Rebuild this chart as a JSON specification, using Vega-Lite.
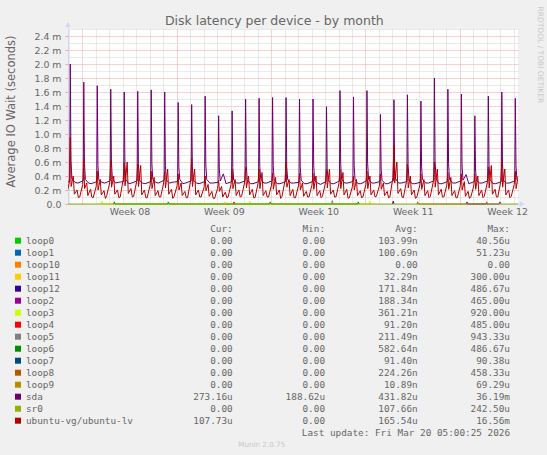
{
  "$schema": "https://vega.github.io/schema/vega-lite/v6.json",
  "background": "#F0F0F0",
  "padding": {"left": 5, "top": 5, "right": 4, "bottom": 7},
  "bounds": "flush",
  "spacing": 24.7,
  "config": {"view": {"stroke": null}},
  "resolve": {"scale": {"x": "independent", "y": "independent"}},
  "datasets": {
    "series": [
      {"dev": "loop3", "t": 1.40, "v": 0}, {"dev": "loop3", "t": 1.46, "v": 0.04}, {"dev": "loop3", "t": 1.52, "v": 0},
      {"dev": "loop3", "t": 12.36, "v": 0}, {"dev": "loop3", "t": 12.42, "v": 0.04}, {"dev": "loop3", "t": 12.48, "v": 0},
      {"dev": "loop3", "t": 21.27, "v": 0}, {"dev": "loop3", "t": 21.33, "v": 0.04}, {"dev": "loop3", "t": 21.39, "v": 0},
      {"dev": "loop6", "t": 2.31, "v": 0}, {"dev": "loop6", "t": 2.37, "v": 0.03}, {"dev": "loop6", "t": 2.43, "v": 0},
      {"dev": "loop6", "t": 6.32, "v": 0}, {"dev": "loop6", "t": 6.38, "v": 0.03}, {"dev": "loop6", "t": 6.44, "v": 0},
      {"dev": "loop6", "t": 13.88, "v": 0}, {"dev": "loop6", "t": 13.94, "v": 0.03}, {"dev": "loop6", "t": 14.00, "v": 0},
      {"dev": "loop6", "t": 20.41, "v": 0}, {"dev": "loop6", "t": 20.47, "v": 0.03}, {"dev": "loop6", "t": 20.53, "v": 0},
      {"dev": "loop11", "t": 10.52, "v": 0}, {"dev": "loop11", "t": 10.58, "v": 0.03}, {"dev": "loop11", "t": 10.64, "v": 0},
      {"dev": "loop4", "t": 11.19, "v": 0}, {"dev": "loop4", "t": 11.25, "v": 0.03}, {"dev": "loop4", "t": 11.31, "v": 0},
      {"dev": "loop5", "t": 18.48, "v": 0}, {"dev": "loop5", "t": 18.54, "v": 0.05}, {"dev": "loop5", "t": 18.60, "v": 0},
      {"dev": "loop12", "t": 23.00, "v": 0}, {"dev": "loop12", "t": 23.06, "v": 0.04}, {"dev": "loop12", "t": 23.12, "v": 0},
      {"dev": "loop8", "t": 24.81, "v": 0}, {"dev": "loop8", "t": 24.87, "v": 0.03}, {"dev": "loop8", "t": 24.93, "v": 0},
      {"dev": "loop8", "t": 29.93, "v": 0}, {"dev": "loop8", "t": 29.99, "v": 0.03}, {"dev": "loop8", "t": 30.05, "v": 0},
      {"dev": "loop2", "t": 28.47, "v": 0}, {"dev": "loop2", "t": 28.53, "v": 0.03}, {"dev": "loop2", "t": 28.59, "v": 0},
      {"dev": "loop2", "t": 30.91, "v": 0}, {"dev": "loop2", "t": 30.97, "v": 0.03}, {"dev": "loop2", "t": 31.03, "v": 0},
      {"dev": "sr0", "t": -1.06, "v": 0}, {"dev": "sr0", "t": 32.31, "v": 0},

      {"dev": "sda", "t": -1.34, "v": 0.31}, {"dev": "sda", "t": -0.93, "v": 0.32}, {"dev": "sda", "t": -0.89, "v": 2.00}, {"dev": "sda", "t": -0.84, "v": 0.62}, {"dev": "sda", "t": -0.77, "v": 0.36}, {"dev": "sda", "t": -0.54, "v": 0.31},
      {"dev": "sda", "t": -0.34, "v": 0.30}, {"dev": "sda", "t": 0.07, "v": 0.33}, {"dev": "sda", "t": 0.11, "v": 1.74}, {"dev": "sda", "t": 0.16, "v": 0.58}, {"dev": "sda", "t": 0.23, "v": 0.35}, {"dev": "sda", "t": 0.46, "v": 0.30},
      {"dev": "sda", "t": 0.66, "v": 0.29}, {"dev": "sda", "t": 1.07, "v": 0.32}, {"dev": "sda", "t": 1.11, "v": 1.69}, {"dev": "sda", "t": 1.16, "v": 0.55}, {"dev": "sda", "t": 1.23, "v": 0.34}, {"dev": "sda", "t": 1.46, "v": 0.31},
      {"dev": "sda", "t": 1.66, "v": 0.30}, {"dev": "sda", "t": 2.07, "v": 0.33}, {"dev": "sda", "t": 2.11, "v": 1.64}, {"dev": "sda", "t": 2.16, "v": 0.60}, {"dev": "sda", "t": 2.23, "v": 0.36}, {"dev": "sda", "t": 2.46, "v": 0.30},
      {"dev": "sda", "t": 2.66, "v": 0.31}, {"dev": "sda", "t": 3.07, "v": 0.32}, {"dev": "sda", "t": 3.11, "v": 1.60}, {"dev": "sda", "t": 3.16, "v": 0.56}, {"dev": "sda", "t": 3.23, "v": 0.35}, {"dev": "sda", "t": 3.46, "v": 0.29},
      {"dev": "sda", "t": 3.66, "v": 0.30}, {"dev": "sda", "t": 4.07, "v": 0.33}, {"dev": "sda", "t": 4.11, "v": 1.61}, {"dev": "sda", "t": 4.16, "v": 0.58}, {"dev": "sda", "t": 4.23, "v": 0.34}, {"dev": "sda", "t": 4.46, "v": 0.30},
      {"dev": "sda", "t": 4.66, "v": 0.29}, {"dev": "sda", "t": 5.07, "v": 0.32}, {"dev": "sda", "t": 5.11, "v": 1.63}, {"dev": "sda", "t": 5.16, "v": 0.57}, {"dev": "sda", "t": 5.23, "v": 0.35}, {"dev": "sda", "t": 5.46, "v": 0.31},
      {"dev": "sda", "t": 5.66, "v": 0.30}, {"dev": "sda", "t": 6.07, "v": 0.34}, {"dev": "sda", "t": 6.11, "v": 1.60}, {"dev": "sda", "t": 6.16, "v": 0.55}, {"dev": "sda", "t": 6.23, "v": 0.34}, {"dev": "sda", "t": 6.46, "v": 0.30},
      {"dev": "sda", "t": 6.66, "v": 0.31}, {"dev": "sda", "t": 7.07, "v": 0.32}, {"dev": "sda", "t": 7.11, "v": 1.45}, {"dev": "sda", "t": 7.16, "v": 0.52}, {"dev": "sda", "t": 7.23, "v": 0.35}, {"dev": "sda", "t": 7.46, "v": 0.29},
      {"dev": "sda", "t": 7.66, "v": 0.30}, {"dev": "sda", "t": 8.07, "v": 0.33}, {"dev": "sda", "t": 8.11, "v": 1.42}, {"dev": "sda", "t": 8.16, "v": 0.54}, {"dev": "sda", "t": 8.23, "v": 0.34}, {"dev": "sda", "t": 8.46, "v": 0.30},
      {"dev": "sda", "t": 8.66, "v": 0.29}, {"dev": "sda", "t": 9.07, "v": 0.32}, {"dev": "sda", "t": 9.11, "v": 1.54}, {"dev": "sda", "t": 9.16, "v": 0.56}, {"dev": "sda", "t": 9.23, "v": 0.35}, {"dev": "sda", "t": 9.46, "v": 0.30},
      {"dev": "sda", "t": 9.66, "v": 0.30}, {"dev": "sda", "t": 10.07, "v": 0.31}, {"dev": "sda", "t": 10.11, "v": 1.26}, {"dev": "sda", "t": 10.16, "v": 0.50}, {"dev": "sda", "t": 10.23, "v": 0.33}, {"dev": "sda", "t": 10.46, "v": 0.43},
      {"dev": "sda", "t": 10.66, "v": 0.29}, {"dev": "sda", "t": 11.07, "v": 0.32}, {"dev": "sda", "t": 11.11, "v": 1.33}, {"dev": "sda", "t": 11.16, "v": 0.52}, {"dev": "sda", "t": 11.23, "v": 0.34}, {"dev": "sda", "t": 11.46, "v": 0.30},
      {"dev": "sda", "t": 11.66, "v": 0.30}, {"dev": "sda", "t": 12.07, "v": 0.33}, {"dev": "sda", "t": 12.11, "v": 1.50}, {"dev": "sda", "t": 12.16, "v": 0.55}, {"dev": "sda", "t": 12.23, "v": 0.35}, {"dev": "sda", "t": 12.46, "v": 0.29},
      {"dev": "sda", "t": 12.66, "v": 0.29}, {"dev": "sda", "t": 13.07, "v": 0.32}, {"dev": "sda", "t": 13.11, "v": 1.51}, {"dev": "sda", "t": 13.16, "v": 0.54}, {"dev": "sda", "t": 13.23, "v": 0.36}, {"dev": "sda", "t": 13.46, "v": 0.30},
      {"dev": "sda", "t": 13.66, "v": 0.30}, {"dev": "sda", "t": 14.07, "v": 0.33}, {"dev": "sda", "t": 14.11, "v": 1.52}, {"dev": "sda", "t": 14.16, "v": 0.55}, {"dev": "sda", "t": 14.23, "v": 0.34}, {"dev": "sda", "t": 14.46, "v": 0.29},
      {"dev": "sda", "t": 14.66, "v": 0.29}, {"dev": "sda", "t": 15.07, "v": 0.32}, {"dev": "sda", "t": 15.11, "v": 1.52}, {"dev": "sda", "t": 15.16, "v": 0.53}, {"dev": "sda", "t": 15.23, "v": 0.35}, {"dev": "sda", "t": 15.46, "v": 0.30},
      {"dev": "sda", "t": 15.66, "v": 0.30}, {"dev": "sda", "t": 16.07, "v": 0.31}, {"dev": "sda", "t": 16.11, "v": 1.50}, {"dev": "sda", "t": 16.16, "v": 0.54}, {"dev": "sda", "t": 16.23, "v": 0.34}, {"dev": "sda", "t": 16.46, "v": 0.29},
      {"dev": "sda", "t": 16.66, "v": 0.29}, {"dev": "sda", "t": 17.07, "v": 0.32}, {"dev": "sda", "t": 17.11, "v": 1.50}, {"dev": "sda", "t": 17.16, "v": 0.55}, {"dev": "sda", "t": 17.23, "v": 0.33}, {"dev": "sda", "t": 17.46, "v": 0.30},
      {"dev": "sda", "t": 17.66, "v": 0.28}, {"dev": "sda", "t": 18.07, "v": 0.32}, {"dev": "sda", "t": 18.11, "v": 1.39}, {"dev": "sda", "t": 18.16, "v": 0.50}, {"dev": "sda", "t": 18.23, "v": 0.34}, {"dev": "sda", "t": 18.46, "v": 0.29},
      {"dev": "sda", "t": 18.66, "v": 0.29}, {"dev": "sda", "t": 19.07, "v": 0.33}, {"dev": "sda", "t": 19.11, "v": 1.62}, {"dev": "sda", "t": 19.16, "v": 0.57}, {"dev": "sda", "t": 19.23, "v": 0.35}, {"dev": "sda", "t": 19.46, "v": 0.30},
      {"dev": "sda", "t": 19.66, "v": 0.30}, {"dev": "sda", "t": 20.07, "v": 0.32}, {"dev": "sda", "t": 20.11, "v": 1.53}, {"dev": "sda", "t": 20.16, "v": 0.55}, {"dev": "sda", "t": 20.23, "v": 0.34}, {"dev": "sda", "t": 20.46, "v": 0.29},
      {"dev": "sda", "t": 20.66, "v": 0.29}, {"dev": "sda", "t": 21.07, "v": 0.33}, {"dev": "sda", "t": 21.11, "v": 1.62}, {"dev": "sda", "t": 21.16, "v": 0.58}, {"dev": "sda", "t": 21.23, "v": 0.35}, {"dev": "sda", "t": 21.46, "v": 0.30},
      {"dev": "sda", "t": 21.66, "v": 0.30}, {"dev": "sda", "t": 22.07, "v": 0.32}, {"dev": "sda", "t": 22.11, "v": 1.28}, {"dev": "sda", "t": 22.16, "v": 0.50}, {"dev": "sda", "t": 22.23, "v": 0.34}, {"dev": "sda", "t": 22.46, "v": 0.29},
      {"dev": "sda", "t": 22.66, "v": 0.29}, {"dev": "sda", "t": 23.07, "v": 0.33}, {"dev": "sda", "t": 23.11, "v": 1.49}, {"dev": "sda", "t": 23.16, "v": 0.55}, {"dev": "sda", "t": 23.23, "v": 0.36}, {"dev": "sda", "t": 23.46, "v": 0.30},
      {"dev": "sda", "t": 23.66, "v": 0.30}, {"dev": "sda", "t": 24.07, "v": 0.32}, {"dev": "sda", "t": 24.11, "v": 1.56}, {"dev": "sda", "t": 24.16, "v": 0.56}, {"dev": "sda", "t": 24.23, "v": 0.34}, {"dev": "sda", "t": 24.46, "v": 0.29},
      {"dev": "sda", "t": 24.66, "v": 0.29}, {"dev": "sda", "t": 25.07, "v": 0.31}, {"dev": "sda", "t": 25.11, "v": 1.47}, {"dev": "sda", "t": 25.16, "v": 0.53}, {"dev": "sda", "t": 25.23, "v": 0.35}, {"dev": "sda", "t": 25.46, "v": 0.30},
      {"dev": "sda", "t": 25.66, "v": 0.30}, {"dev": "sda", "t": 26.07, "v": 0.33}, {"dev": "sda", "t": 26.11, "v": 1.80}, {"dev": "sda", "t": 26.16, "v": 0.62}, {"dev": "sda", "t": 26.23, "v": 0.36}, {"dev": "sda", "t": 26.46, "v": 0.29},
      {"dev": "sda", "t": 26.66, "v": 0.29}, {"dev": "sda", "t": 27.07, "v": 0.32}, {"dev": "sda", "t": 27.11, "v": 1.64}, {"dev": "sda", "t": 27.16, "v": 0.58}, {"dev": "sda", "t": 27.23, "v": 0.35}, {"dev": "sda", "t": 27.46, "v": 0.30},
      {"dev": "sda", "t": 27.66, "v": 0.30}, {"dev": "sda", "t": 28.07, "v": 0.33}, {"dev": "sda", "t": 28.11, "v": 1.57}, {"dev": "sda", "t": 28.16, "v": 0.56}, {"dev": "sda", "t": 28.23, "v": 0.34}, {"dev": "sda", "t": 28.46, "v": 0.42},
      {"dev": "sda", "t": 28.66, "v": 0.29}, {"dev": "sda", "t": 29.07, "v": 0.32}, {"dev": "sda", "t": 29.11, "v": 1.26}, {"dev": "sda", "t": 29.16, "v": 0.50}, {"dev": "sda", "t": 29.23, "v": 0.33}, {"dev": "sda", "t": 29.46, "v": 0.30},
      {"dev": "sda", "t": 29.66, "v": 0.30}, {"dev": "sda", "t": 30.07, "v": 0.33}, {"dev": "sda", "t": 30.11, "v": 1.54}, {"dev": "sda", "t": 30.16, "v": 0.56}, {"dev": "sda", "t": 30.23, "v": 0.35}, {"dev": "sda", "t": 30.46, "v": 0.29},
      {"dev": "sda", "t": 30.66, "v": 0.29}, {"dev": "sda", "t": 31.07, "v": 0.32}, {"dev": "sda", "t": 31.11, "v": 1.60}, {"dev": "sda", "t": 31.16, "v": 0.57}, {"dev": "sda", "t": 31.23, "v": 0.34}, {"dev": "sda", "t": 31.46, "v": 0.30},
      {"dev": "sda", "t": 31.66, "v": 0.30}, {"dev": "sda", "t": 32.07, "v": 0.33}, {"dev": "sda", "t": 32.11, "v": 1.51}, {"dev": "sda", "t": 32.16, "v": 0.55}, {"dev": "sda", "t": 32.23, "v": 0.35}, {"dev": "sda", "t": 32.46, "v": 0.30},

      {"dev": "ubuntu-vg/ubuntu-lv", "t": -1.19, "v": 0.11}, {"dev": "ubuntu-vg/ubuntu-lv", "t": -0.97, "v": 0.30}, {"dev": "ubuntu-vg/ubuntu-lv", "t": -0.89, "v": 0.95}, {"dev": "ubuntu-vg/ubuntu-lv", "t": -0.83, "v": 0.25}, {"dev": "ubuntu-vg/ubuntu-lv", "t": -0.67, "v": 0.40}, {"dev": "ubuntu-vg/ubuntu-lv", "t": -0.59, "v": 0.14}, {"dev": "ubuntu-vg/ubuntu-lv", "t": -0.39, "v": 0.20}, {"dev": "ubuntu-vg/ubuntu-lv", "t": -0.29, "v": 0.09},
      {"dev": "ubuntu-vg/ubuntu-lv", "t": -0.19, "v": 0.10}, {"dev": "ubuntu-vg/ubuntu-lv", "t": 0.03, "v": 0.28}, {"dev": "ubuntu-vg/ubuntu-lv", "t": 0.11, "v": 0.62}, {"dev": "ubuntu-vg/ubuntu-lv", "t": 0.17, "v": 0.22}, {"dev": "ubuntu-vg/ubuntu-lv", "t": 0.33, "v": 0.30}, {"dev": "ubuntu-vg/ubuntu-lv", "t": 0.41, "v": 0.12}, {"dev": "ubuntu-vg/ubuntu-lv", "t": 0.61, "v": 0.21}, {"dev": "ubuntu-vg/ubuntu-lv", "t": 0.71, "v": 0.10},
      {"dev": "ubuntu-vg/ubuntu-lv", "t": 0.81, "v": 0.09}, {"dev": "ubuntu-vg/ubuntu-lv", "t": 1.03, "v": 0.25}, {"dev": "ubuntu-vg/ubuntu-lv", "t": 1.11, "v": 0.47}, {"dev": "ubuntu-vg/ubuntu-lv", "t": 1.17, "v": 0.20}, {"dev": "ubuntu-vg/ubuntu-lv", "t": 1.33, "v": 0.35}, {"dev": "ubuntu-vg/ubuntu-lv", "t": 1.41, "v": 0.13}, {"dev": "ubuntu-vg/ubuntu-lv", "t": 1.61, "v": 0.19}, {"dev": "ubuntu-vg/ubuntu-lv", "t": 1.71, "v": 0.08},
      {"dev": "ubuntu-vg/ubuntu-lv", "t": 1.81, "v": 0.12}, {"dev": "ubuntu-vg/ubuntu-lv", "t": 2.03, "v": 0.30}, {"dev": "ubuntu-vg/ubuntu-lv", "t": 2.11, "v": 0.62}, {"dev": "ubuntu-vg/ubuntu-lv", "t": 2.17, "v": 0.24}, {"dev": "ubuntu-vg/ubuntu-lv", "t": 2.33, "v": 0.40}, {"dev": "ubuntu-vg/ubuntu-lv", "t": 2.41, "v": 0.14}, {"dev": "ubuntu-vg/ubuntu-lv", "t": 2.61, "v": 0.20}, {"dev": "ubuntu-vg/ubuntu-lv", "t": 2.71, "v": 0.09},
      {"dev": "ubuntu-vg/ubuntu-lv", "t": 2.81, "v": 0.10}, {"dev": "ubuntu-vg/ubuntu-lv", "t": 3.03, "v": 0.35}, {"dev": "ubuntu-vg/ubuntu-lv", "t": 3.11, "v": 0.59}, {"dev": "ubuntu-vg/ubuntu-lv", "t": 3.17, "v": 0.26}, {"dev": "ubuntu-vg/ubuntu-lv", "t": 3.33, "v": 0.60}, {"dev": "ubuntu-vg/ubuntu-lv", "t": 3.41, "v": 0.15}, {"dev": "ubuntu-vg/ubuntu-lv", "t": 3.61, "v": 0.22}, {"dev": "ubuntu-vg/ubuntu-lv", "t": 3.71, "v": 0.10},
      {"dev": "ubuntu-vg/ubuntu-lv", "t": 3.81, "v": 0.11}, {"dev": "ubuntu-vg/ubuntu-lv", "t": 4.03, "v": 0.32}, {"dev": "ubuntu-vg/ubuntu-lv", "t": 4.11, "v": 0.57}, {"dev": "ubuntu-vg/ubuntu-lv", "t": 4.17, "v": 0.25}, {"dev": "ubuntu-vg/ubuntu-lv", "t": 4.33, "v": 0.55}, {"dev": "ubuntu-vg/ubuntu-lv", "t": 4.41, "v": 0.13}, {"dev": "ubuntu-vg/ubuntu-lv", "t": 4.61, "v": 0.20}, {"dev": "ubuntu-vg/ubuntu-lv", "t": 4.71, "v": 0.09},
      {"dev": "ubuntu-vg/ubuntu-lv", "t": 4.81, "v": 0.09}, {"dev": "ubuntu-vg/ubuntu-lv", "t": 5.03, "v": 0.27}, {"dev": "ubuntu-vg/ubuntu-lv", "t": 5.11, "v": 0.47}, {"dev": "ubuntu-vg/ubuntu-lv", "t": 5.17, "v": 0.22}, {"dev": "ubuntu-vg/ubuntu-lv", "t": 5.33, "v": 0.38}, {"dev": "ubuntu-vg/ubuntu-lv", "t": 5.41, "v": 0.12}, {"dev": "ubuntu-vg/ubuntu-lv", "t": 5.61, "v": 0.19}, {"dev": "ubuntu-vg/ubuntu-lv", "t": 5.71, "v": 0.10},
      {"dev": "ubuntu-vg/ubuntu-lv", "t": 5.81, "v": 0.10}, {"dev": "ubuntu-vg/ubuntu-lv", "t": 6.03, "v": 0.30}, {"dev": "ubuntu-vg/ubuntu-lv", "t": 6.11, "v": 0.46}, {"dev": "ubuntu-vg/ubuntu-lv", "t": 6.17, "v": 0.23}, {"dev": "ubuntu-vg/ubuntu-lv", "t": 6.33, "v": 0.50}, {"dev": "ubuntu-vg/ubuntu-lv", "t": 6.41, "v": 0.14}, {"dev": "ubuntu-vg/ubuntu-lv", "t": 6.61, "v": 0.21}, {"dev": "ubuntu-vg/ubuntu-lv", "t": 6.71, "v": 0.08},
      {"dev": "ubuntu-vg/ubuntu-lv", "t": 6.81, "v": 0.11}, {"dev": "ubuntu-vg/ubuntu-lv", "t": 7.03, "v": 0.26}, {"dev": "ubuntu-vg/ubuntu-lv", "t": 7.11, "v": 0.43}, {"dev": "ubuntu-vg/ubuntu-lv", "t": 7.17, "v": 0.20}, {"dev": "ubuntu-vg/ubuntu-lv", "t": 7.33, "v": 0.30}, {"dev": "ubuntu-vg/ubuntu-lv", "t": 7.41, "v": 0.12}, {"dev": "ubuntu-vg/ubuntu-lv", "t": 7.61, "v": 0.18}, {"dev": "ubuntu-vg/ubuntu-lv", "t": 7.71, "v": 0.09},
      {"dev": "ubuntu-vg/ubuntu-lv", "t": 7.81, "v": 0.09}, {"dev": "ubuntu-vg/ubuntu-lv", "t": 8.03, "v": 0.33}, {"dev": "ubuntu-vg/ubuntu-lv", "t": 8.11, "v": 0.65}, {"dev": "ubuntu-vg/ubuntu-lv", "t": 8.17, "v": 0.25}, {"dev": "ubuntu-vg/ubuntu-lv", "t": 8.33, "v": 0.50}, {"dev": "ubuntu-vg/ubuntu-lv", "t": 8.41, "v": 0.13}, {"dev": "ubuntu-vg/ubuntu-lv", "t": 8.61, "v": 0.20}, {"dev": "ubuntu-vg/ubuntu-lv", "t": 8.71, "v": 0.10},
      {"dev": "ubuntu-vg/ubuntu-lv", "t": 8.81, "v": 0.10}, {"dev": "ubuntu-vg/ubuntu-lv", "t": 9.03, "v": 0.24}, {"dev": "ubuntu-vg/ubuntu-lv", "t": 9.11, "v": 0.40}, {"dev": "ubuntu-vg/ubuntu-lv", "t": 9.17, "v": 0.19}, {"dev": "ubuntu-vg/ubuntu-lv", "t": 9.33, "v": 0.28}, {"dev": "ubuntu-vg/ubuntu-lv", "t": 9.41, "v": 0.11}, {"dev": "ubuntu-vg/ubuntu-lv", "t": 9.61, "v": 0.18}, {"dev": "ubuntu-vg/ubuntu-lv", "t": 9.71, "v": 0.08},
      {"dev": "ubuntu-vg/ubuntu-lv", "t": 9.81, "v": 0.08}, {"dev": "ubuntu-vg/ubuntu-lv", "t": 10.03, "v": 0.22}, {"dev": "ubuntu-vg/ubuntu-lv", "t": 10.11, "v": 0.34}, {"dev": "ubuntu-vg/ubuntu-lv", "t": 10.17, "v": 0.18}, {"dev": "ubuntu-vg/ubuntu-lv", "t": 10.33, "v": 0.25}, {"dev": "ubuntu-vg/ubuntu-lv", "t": 10.41, "v": 0.10}, {"dev": "ubuntu-vg/ubuntu-lv", "t": 10.61, "v": 0.17}, {"dev": "ubuntu-vg/ubuntu-lv", "t": 10.71, "v": 0.09},
      {"dev": "ubuntu-vg/ubuntu-lv", "t": 10.81, "v": 0.10}, {"dev": "ubuntu-vg/ubuntu-lv", "t": 11.03, "v": 0.28}, {"dev": "ubuntu-vg/ubuntu-lv", "t": 11.11, "v": 0.50}, {"dev": "ubuntu-vg/ubuntu-lv", "t": 11.17, "v": 0.22}, {"dev": "ubuntu-vg/ubuntu-lv", "t": 11.33, "v": 0.35}, {"dev": "ubuntu-vg/ubuntu-lv", "t": 11.41, "v": 0.12}, {"dev": "ubuntu-vg/ubuntu-lv", "t": 11.61, "v": 0.20}, {"dev": "ubuntu-vg/ubuntu-lv", "t": 11.71, "v": 0.10},
      {"dev": "ubuntu-vg/ubuntu-lv", "t": 11.81, "v": 0.11}, {"dev": "ubuntu-vg/ubuntu-lv", "t": 12.03, "v": 0.30}, {"dev": "ubuntu-vg/ubuntu-lv", "t": 12.11, "v": 0.52}, {"dev": "ubuntu-vg/ubuntu-lv", "t": 12.17, "v": 0.23}, {"dev": "ubuntu-vg/ubuntu-lv", "t": 12.33, "v": 0.40}, {"dev": "ubuntu-vg/ubuntu-lv", "t": 12.41, "v": 0.13}, {"dev": "ubuntu-vg/ubuntu-lv", "t": 12.61, "v": 0.21}, {"dev": "ubuntu-vg/ubuntu-lv", "t": 12.71, "v": 0.09},
      {"dev": "ubuntu-vg/ubuntu-lv", "t": 12.81, "v": 0.09}, {"dev": "ubuntu-vg/ubuntu-lv", "t": 13.03, "v": 0.29}, {"dev": "ubuntu-vg/ubuntu-lv", "t": 13.11, "v": 0.50}, {"dev": "ubuntu-vg/ubuntu-lv", "t": 13.17, "v": 0.22}, {"dev": "ubuntu-vg/ubuntu-lv", "t": 13.33, "v": 0.45}, {"dev": "ubuntu-vg/ubuntu-lv", "t": 13.41, "v": 0.12}, {"dev": "ubuntu-vg/ubuntu-lv", "t": 13.61, "v": 0.19}, {"dev": "ubuntu-vg/ubuntu-lv", "t": 13.71, "v": 0.10},
      {"dev": "ubuntu-vg/ubuntu-lv", "t": 13.81, "v": 0.10}, {"dev": "ubuntu-vg/ubuntu-lv", "t": 14.03, "v": 0.27}, {"dev": "ubuntu-vg/ubuntu-lv", "t": 14.11, "v": 0.44}, {"dev": "ubuntu-vg/ubuntu-lv", "t": 14.17, "v": 0.21}, {"dev": "ubuntu-vg/ubuntu-lv", "t": 14.33, "v": 0.38}, {"dev": "ubuntu-vg/ubuntu-lv", "t": 14.41, "v": 0.13}, {"dev": "ubuntu-vg/ubuntu-lv", "t": 14.61, "v": 0.20}, {"dev": "ubuntu-vg/ubuntu-lv", "t": 14.71, "v": 0.08},
      {"dev": "ubuntu-vg/ubuntu-lv", "t": 14.81, "v": 0.11}, {"dev": "ubuntu-vg/ubuntu-lv", "t": 15.03, "v": 0.33}, {"dev": "ubuntu-vg/ubuntu-lv", "t": 15.11, "v": 0.60}, {"dev": "ubuntu-vg/ubuntu-lv", "t": 15.17, "v": 0.24}, {"dev": "ubuntu-vg/ubuntu-lv", "t": 15.33, "v": 0.35}, {"dev": "ubuntu-vg/ubuntu-lv", "t": 15.41, "v": 0.12}, {"dev": "ubuntu-vg/ubuntu-lv", "t": 15.61, "v": 0.21}, {"dev": "ubuntu-vg/ubuntu-lv", "t": 15.71, "v": 0.09},
      {"dev": "ubuntu-vg/ubuntu-lv", "t": 15.81, "v": 0.09}, {"dev": "ubuntu-vg/ubuntu-lv", "t": 16.03, "v": 0.26}, {"dev": "ubuntu-vg/ubuntu-lv", "t": 16.11, "v": 0.44}, {"dev": "ubuntu-vg/ubuntu-lv", "t": 16.17, "v": 0.20}, {"dev": "ubuntu-vg/ubuntu-lv", "t": 16.33, "v": 0.30}, {"dev": "ubuntu-vg/ubuntu-lv", "t": 16.41, "v": 0.11}, {"dev": "ubuntu-vg/ubuntu-lv", "t": 16.61, "v": 0.18}, {"dev": "ubuntu-vg/ubuntu-lv", "t": 16.71, "v": 0.10},
      {"dev": "ubuntu-vg/ubuntu-lv", "t": 16.81, "v": 0.10}, {"dev": "ubuntu-vg/ubuntu-lv", "t": 17.03, "v": 0.27}, {"dev": "ubuntu-vg/ubuntu-lv", "t": 17.11, "v": 0.44}, {"dev": "ubuntu-vg/ubuntu-lv", "t": 17.17, "v": 0.21}, {"dev": "ubuntu-vg/ubuntu-lv", "t": 17.33, "v": 0.40}, {"dev": "ubuntu-vg/ubuntu-lv", "t": 17.41, "v": 0.12}, {"dev": "ubuntu-vg/ubuntu-lv", "t": 17.61, "v": 0.19}, {"dev": "ubuntu-vg/ubuntu-lv", "t": 17.71, "v": 0.09},
      {"dev": "ubuntu-vg/ubuntu-lv", "t": 17.81, "v": 0.11}, {"dev": "ubuntu-vg/ubuntu-lv", "t": 18.03, "v": 0.30}, {"dev": "ubuntu-vg/ubuntu-lv", "t": 18.11, "v": 0.50}, {"dev": "ubuntu-vg/ubuntu-lv", "t": 18.17, "v": 0.23}, {"dev": "ubuntu-vg/ubuntu-lv", "t": 18.33, "v": 0.50}, {"dev": "ubuntu-vg/ubuntu-lv", "t": 18.41, "v": 0.14}, {"dev": "ubuntu-vg/ubuntu-lv", "t": 18.61, "v": 0.20}, {"dev": "ubuntu-vg/ubuntu-lv", "t": 18.71, "v": 0.10},
      {"dev": "ubuntu-vg/ubuntu-lv", "t": 18.81, "v": 0.10}, {"dev": "ubuntu-vg/ubuntu-lv", "t": 19.03, "v": 0.29}, {"dev": "ubuntu-vg/ubuntu-lv", "t": 19.11, "v": 0.50}, {"dev": "ubuntu-vg/ubuntu-lv", "t": 19.17, "v": 0.22}, {"dev": "ubuntu-vg/ubuntu-lv", "t": 19.33, "v": 0.45}, {"dev": "ubuntu-vg/ubuntu-lv", "t": 19.41, "v": 0.13}, {"dev": "ubuntu-vg/ubuntu-lv", "t": 19.61, "v": 0.21}, {"dev": "ubuntu-vg/ubuntu-lv", "t": 19.71, "v": 0.08},
      {"dev": "ubuntu-vg/ubuntu-lv", "t": 19.81, "v": 0.09}, {"dev": "ubuntu-vg/ubuntu-lv", "t": 20.03, "v": 0.25}, {"dev": "ubuntu-vg/ubuntu-lv", "t": 20.11, "v": 0.40}, {"dev": "ubuntu-vg/ubuntu-lv", "t": 20.17, "v": 0.20}, {"dev": "ubuntu-vg/ubuntu-lv", "t": 20.33, "v": 0.35}, {"dev": "ubuntu-vg/ubuntu-lv", "t": 20.41, "v": 0.12}, {"dev": "ubuntu-vg/ubuntu-lv", "t": 20.61, "v": 0.19}, {"dev": "ubuntu-vg/ubuntu-lv", "t": 20.71, "v": 0.09},
      {"dev": "ubuntu-vg/ubuntu-lv", "t": 20.81, "v": 0.10}, {"dev": "ubuntu-vg/ubuntu-lv", "t": 21.03, "v": 0.28}, {"dev": "ubuntu-vg/ubuntu-lv", "t": 21.11, "v": 0.47}, {"dev": "ubuntu-vg/ubuntu-lv", "t": 21.17, "v": 0.22}, {"dev": "ubuntu-vg/ubuntu-lv", "t": 21.33, "v": 0.40}, {"dev": "ubuntu-vg/ubuntu-lv", "t": 21.41, "v": 0.13}, {"dev": "ubuntu-vg/ubuntu-lv", "t": 21.61, "v": 0.20}, {"dev": "ubuntu-vg/ubuntu-lv", "t": 21.71, "v": 0.10},
      {"dev": "ubuntu-vg/ubuntu-lv", "t": 21.81, "v": 0.11}, {"dev": "ubuntu-vg/ubuntu-lv", "t": 22.03, "v": 0.26}, {"dev": "ubuntu-vg/ubuntu-lv", "t": 22.11, "v": 0.43}, {"dev": "ubuntu-vg/ubuntu-lv", "t": 22.17, "v": 0.21}, {"dev": "ubuntu-vg/ubuntu-lv", "t": 22.33, "v": 0.30}, {"dev": "ubuntu-vg/ubuntu-lv", "t": 22.41, "v": 0.12}, {"dev": "ubuntu-vg/ubuntu-lv", "t": 22.61, "v": 0.18}, {"dev": "ubuntu-vg/ubuntu-lv", "t": 22.71, "v": 0.09},
      {"dev": "ubuntu-vg/ubuntu-lv", "t": 22.81, "v": 0.10}, {"dev": "ubuntu-vg/ubuntu-lv", "t": 23.03, "v": 0.38}, {"dev": "ubuntu-vg/ubuntu-lv", "t": 23.11, "v": 0.83}, {"dev": "ubuntu-vg/ubuntu-lv", "t": 23.17, "v": 0.30}, {"dev": "ubuntu-vg/ubuntu-lv", "t": 23.33, "v": 0.60}, {"dev": "ubuntu-vg/ubuntu-lv", "t": 23.41, "v": 0.15}, {"dev": "ubuntu-vg/ubuntu-lv", "t": 23.61, "v": 0.22}, {"dev": "ubuntu-vg/ubuntu-lv", "t": 23.71, "v": 0.10},
      {"dev": "ubuntu-vg/ubuntu-lv", "t": 23.81, "v": 0.09}, {"dev": "ubuntu-vg/ubuntu-lv", "t": 24.03, "v": 0.31}, {"dev": "ubuntu-vg/ubuntu-lv", "t": 24.11, "v": 0.57}, {"dev": "ubuntu-vg/ubuntu-lv", "t": 24.17, "v": 0.23}, {"dev": "ubuntu-vg/ubuntu-lv", "t": 24.33, "v": 0.40}, {"dev": "ubuntu-vg/ubuntu-lv", "t": 24.41, "v": 0.13}, {"dev": "ubuntu-vg/ubuntu-lv", "t": 24.61, "v": 0.20}, {"dev": "ubuntu-vg/ubuntu-lv", "t": 24.71, "v": 0.08},
      {"dev": "ubuntu-vg/ubuntu-lv", "t": 24.81, "v": 0.10}, {"dev": "ubuntu-vg/ubuntu-lv", "t": 25.03, "v": 0.27}, {"dev": "ubuntu-vg/ubuntu-lv", "t": 25.11, "v": 0.43}, {"dev": "ubuntu-vg/ubuntu-lv", "t": 25.17, "v": 0.21}, {"dev": "ubuntu-vg/ubuntu-lv", "t": 25.33, "v": 0.35}, {"dev": "ubuntu-vg/ubuntu-lv", "t": 25.41, "v": 0.12}, {"dev": "ubuntu-vg/ubuntu-lv", "t": 25.61, "v": 0.19}, {"dev": "ubuntu-vg/ubuntu-lv", "t": 25.71, "v": 0.09},
      {"dev": "ubuntu-vg/ubuntu-lv", "t": 25.81, "v": 0.11}, {"dev": "ubuntu-vg/ubuntu-lv", "t": 26.03, "v": 0.32}, {"dev": "ubuntu-vg/ubuntu-lv", "t": 26.11, "v": 0.60}, {"dev": "ubuntu-vg/ubuntu-lv", "t": 26.17, "v": 0.24}, {"dev": "ubuntu-vg/ubuntu-lv", "t": 26.33, "v": 0.50}, {"dev": "ubuntu-vg/ubuntu-lv", "t": 26.41, "v": 0.13}, {"dev": "ubuntu-vg/ubuntu-lv", "t": 26.61, "v": 0.21}, {"dev": "ubuntu-vg/ubuntu-lv", "t": 26.71, "v": 0.10},
      {"dev": "ubuntu-vg/ubuntu-lv", "t": 26.81, "v": 0.10}, {"dev": "ubuntu-vg/ubuntu-lv", "t": 27.03, "v": 0.27}, {"dev": "ubuntu-vg/ubuntu-lv", "t": 27.11, "v": 0.45}, {"dev": "ubuntu-vg/ubuntu-lv", "t": 27.17, "v": 0.21}, {"dev": "ubuntu-vg/ubuntu-lv", "t": 27.33, "v": 0.38}, {"dev": "ubuntu-vg/ubuntu-lv", "t": 27.41, "v": 0.12}, {"dev": "ubuntu-vg/ubuntu-lv", "t": 27.61, "v": 0.19}, {"dev": "ubuntu-vg/ubuntu-lv", "t": 27.71, "v": 0.09},
      {"dev": "ubuntu-vg/ubuntu-lv", "t": 27.81, "v": 0.09}, {"dev": "ubuntu-vg/ubuntu-lv", "t": 28.03, "v": 0.26}, {"dev": "ubuntu-vg/ubuntu-lv", "t": 28.11, "v": 0.43}, {"dev": "ubuntu-vg/ubuntu-lv", "t": 28.17, "v": 0.20}, {"dev": "ubuntu-vg/ubuntu-lv", "t": 28.33, "v": 0.32}, {"dev": "ubuntu-vg/ubuntu-lv", "t": 28.41, "v": 0.11}, {"dev": "ubuntu-vg/ubuntu-lv", "t": 28.61, "v": 0.18}, {"dev": "ubuntu-vg/ubuntu-lv", "t": 28.71, "v": 0.08},
      {"dev": "ubuntu-vg/ubuntu-lv", "t": 28.81, "v": 0.10}, {"dev": "ubuntu-vg/ubuntu-lv", "t": 29.03, "v": 0.26}, {"dev": "ubuntu-vg/ubuntu-lv", "t": 29.11, "v": 0.43}, {"dev": "ubuntu-vg/ubuntu-lv", "t": 29.17, "v": 0.21}, {"dev": "ubuntu-vg/ubuntu-lv", "t": 29.33, "v": 0.40}, {"dev": "ubuntu-vg/ubuntu-lv", "t": 29.41, "v": 0.12}, {"dev": "ubuntu-vg/ubuntu-lv", "t": 29.61, "v": 0.20}, {"dev": "ubuntu-vg/ubuntu-lv", "t": 29.71, "v": 0.09},
      {"dev": "ubuntu-vg/ubuntu-lv", "t": 29.81, "v": 0.11}, {"dev": "ubuntu-vg/ubuntu-lv", "t": 30.03, "v": 0.30}, {"dev": "ubuntu-vg/ubuntu-lv", "t": 30.11, "v": 0.53}, {"dev": "ubuntu-vg/ubuntu-lv", "t": 30.17, "v": 0.23}, {"dev": "ubuntu-vg/ubuntu-lv", "t": 30.33, "v": 0.55}, {"dev": "ubuntu-vg/ubuntu-lv", "t": 30.41, "v": 0.14}, {"dev": "ubuntu-vg/ubuntu-lv", "t": 30.61, "v": 0.21}, {"dev": "ubuntu-vg/ubuntu-lv", "t": 30.71, "v": 0.10},
      {"dev": "ubuntu-vg/ubuntu-lv", "t": 30.81, "v": 0.10}, {"dev": "ubuntu-vg/ubuntu-lv", "t": 31.03, "v": 0.32}, {"dev": "ubuntu-vg/ubuntu-lv", "t": 31.11, "v": 0.60}, {"dev": "ubuntu-vg/ubuntu-lv", "t": 31.17, "v": 0.24}, {"dev": "ubuntu-vg/ubuntu-lv", "t": 31.33, "v": 0.50}, {"dev": "ubuntu-vg/ubuntu-lv", "t": 31.41, "v": 0.13}, {"dev": "ubuntu-vg/ubuntu-lv", "t": 31.61, "v": 0.20}, {"dev": "ubuntu-vg/ubuntu-lv", "t": 31.71, "v": 0.09},
      {"dev": "ubuntu-vg/ubuntu-lv", "t": 31.81, "v": 0.11}, {"dev": "ubuntu-vg/ubuntu-lv", "t": 32.03, "v": 0.28}, {"dev": "ubuntu-vg/ubuntu-lv", "t": 32.11, "v": 0.47}, {"dev": "ubuntu-vg/ubuntu-lv", "t": 32.17, "v": 0.22}, {"dev": "ubuntu-vg/ubuntu-lv", "t": 32.33, "v": 0.40}, {"dev": "ubuntu-vg/ubuntu-lv", "t": 32.41, "v": 0.12}
    ],
    "table": [
      {"dev": "loop0", "cur": "0.00\u00a0", "min": "0.00\u00a0", "avg": "103.99n", "max": "40.56u"},
      {"dev": "loop1", "cur": "0.00\u00a0", "min": "0.00\u00a0", "avg": "100.69n", "max": "51.23u"},
      {"dev": "loop10", "cur": "0.00\u00a0", "min": "0.00\u00a0", "avg": "0.00\u00a0", "max": "0.00\u00a0"},
      {"dev": "loop11", "cur": "0.00\u00a0", "min": "0.00\u00a0", "avg": "32.29n", "max": "300.00u"},
      {"dev": "loop12", "cur": "0.00\u00a0", "min": "0.00\u00a0", "avg": "171.84n", "max": "486.67u"},
      {"dev": "loop2", "cur": "0.00\u00a0", "min": "0.00\u00a0", "avg": "188.34n", "max": "465.00u"},
      {"dev": "loop3", "cur": "0.00\u00a0", "min": "0.00\u00a0", "avg": "361.21n", "max": "920.00u"},
      {"dev": "loop4", "cur": "0.00\u00a0", "min": "0.00\u00a0", "avg": "91.20n", "max": "485.00u"},
      {"dev": "loop5", "cur": "0.00\u00a0", "min": "0.00\u00a0", "avg": "211.49n", "max": "943.33u"},
      {"dev": "loop6", "cur": "0.00\u00a0", "min": "0.00\u00a0", "avg": "582.64n", "max": "486.67u"},
      {"dev": "loop7", "cur": "0.00\u00a0", "min": "0.00\u00a0", "avg": "91.40n", "max": "90.38u"},
      {"dev": "loop8", "cur": "0.00\u00a0", "min": "0.00\u00a0", "avg": "224.26n", "max": "458.33u"},
      {"dev": "loop9", "cur": "0.00\u00a0", "min": "0.00\u00a0", "avg": "10.89n", "max": "69.29u"},
      {"dev": "sda", "cur": "273.16u", "min": "188.62u", "avg": "431.82u", "max": "36.19m"},
      {"dev": "sr0", "cur": "0.00\u00a0", "min": "0.00\u00a0", "avg": "107.66n", "max": "242.50u"},
      {"dev": "ubuntu-vg/ubuntu-lv", "cur": "107.73u", "min": "0.00\u00a0", "avg": "165.54u", "max": "16.56m"}
    ]
  },
  "vconcat": [
    {
      "width": 450,
      "height": 175,
      "view": {"fill": "#FFFFFF", "stroke": null},
      "data": {"name": "series"},
      "resolve": {"axis": {"x": "independent", "y": "independent"}},
      "layer": [
        {
          "transform": [{"filter": {"field": "dev", "oneOf": ["loop2", "loop3", "loop4", "loop5", "loop6", "loop8", "loop11", "loop12"]}}],
          "mark": {"type": "line", "clip": false, "strokeWidth": 1},
          "encoding": {
            "x": {
              "field": "t", "type": "quantitative",
              "scale": {"domain": [-1.06, 32.31], "nice": false, "zero": false},
              "axis": {
                "orient": "bottom", "title": null, "values": [3.5, 10.5, 17.5, 24.5, 31.5],
                "labelExpr": "'Week ' + format(8 + floor(datum.value / 7), '02d')",
                "grid": false, "ticks": false, "domainColor": "#CFD6F8",
                "labelFont": "DejaVu Sans", "labelFontSize": 9.4, "labelColor": "#666666",
                "labelPadding": 3, "labelFlush": false, "labelOverlap": false
              }
            },
            "y": {
              "field": "v", "type": "quantitative",
              "scale": {"domain": [0, 2.5], "nice": false},
              "axis": {
                "orient": "left", "values": [0, 0.2, 0.4, 0.6, 0.8, 1.0, 1.2, 1.4, 1.6, 1.8, 2.0, 2.2, 2.4],
                "labelExpr": "datum.value == 0 ? '0.0' : format(datum.value, '.1f') + ' m'",
                "grid": false, "tickSize": 3, "tickColor": "#F4A6A6", "domainColor": "#CFD6F8",
                "labelFont": "DejaVu Sans", "labelFontSize": 9.4, "labelColor": "#666666", "labelPadding": 4,
                "labelFlush": false, "labelOverlap": false,
                "title": "Average IO Wait (seconds)", "titleFont": "DejaVu Sans", "titleFontSize": 11.5,
                "titleFontWeight": "normal", "titleColor": "#666666", "titleAngle": -90,
                "titleX": -56.5, "titleY": 82, "titleAlign": "center", "titleBaseline": "middle"
              }
            },
            "color": {
              "field": "dev", "type": "nominal", "legend": null,
              "scale": {
                "domain": ["loop0", "loop1", "loop10", "loop11", "loop12", "loop2", "loop3", "loop4", "loop5", "loop6", "loop7", "loop8", "loop9", "sda", "sr0", "ubuntu-vg/ubuntu-lv"],
                "range": ["#00CC00", "#0066B3", "#FF8000", "#FFCC00", "#330099", "#990099", "#CCFF00", "#FF0000", "#808080", "#008F00", "#00487D", "#B35A00", "#B38F00", "#6B006B", "#8FB300", "#B30000"]
              }
            }
          }
        },
        {
          "transform": [{"filter": "datum.dev == 'sda'"}],
          "mark": {"type": "line", "clip": true, "strokeWidth": 1},
          "encoding": {
            "x": {
              "field": "t", "type": "quantitative",
              "axis": {
                "orient": "top", "values": [-1, 0, 1, 2, 3, 4, 5, 6, 7, 8, 9, 10, 11, 12, 13, 14, 15, 16, 17, 18, 19, 20, 21, 22, 23, 24, 25, 26, 27, 28, 29, 30, 31, 32],
                "grid": true, "gridDash": [1, 1], "gridWidth": 1,
                "gridColor": {"condition": {"test": "datum.value % 7 === 0", "value": "#F4A0A0"}, "value": "#D4D4D4"},
                "labels": false, "ticks": false, "domain": false,
                "title": "Disk latency per device - by month", "titleX": 205.8, "titleY": -8.5,
                "titleAlign": "center", "titleBaseline": "middle", "titleAngle": 0,
                "titleFont": "DejaVu Sans", "titleFontSize": 12.5, "titleFontWeight": "normal", "titleColor": "#666666"
              }
            },
            "y": {
              "field": "v", "type": "quantitative",
              "axis": {
                "orient": "right", "values": [0.1, 0.2, 0.3, 0.4, 0.5, 0.6, 0.7, 0.8, 0.9, 1.0, 1.1, 1.2, 1.3, 1.4, 1.5, 1.6, 1.7, 1.8, 1.9, 2.0, 2.1, 2.2, 2.3, 2.4, 2.5],
                "grid": true, "gridDash": [1, 1], "gridWidth": 1,
                "gridColor": {"condition": {"test": "round(datum.value * 10) % 2 === 0", "value": "#F4A0A0"}, "value": "#D4D4D4"},
                "labels": false, "ticks": false, "domain": false,
                "title": "RRDTOOL / TOBI OETIKER", "titleAngle": 90, "titleX": 21.7, "titleY": -23,
                "titleAlign": "left", "titleBaseline": "middle",
                "titleFont": "DejaVu Sans", "titleFontSize": 7.5, "titleFontWeight": "normal", "titleColor": "#C8C8C8"
              }
            },
            "color": {"field": "dev", "type": "nominal", "legend": null}
          }
        },
        {
          "transform": [{"filter": "datum.dev == 'sr0'"}],
          "mark": {"type": "line", "clip": false, "strokeWidth": 1},
          "encoding": {
            "x": {"field": "t", "type": "quantitative", "axis": null},
            "y": {"field": "v", "type": "quantitative", "axis": null},
            "color": {"field": "dev", "type": "nominal", "legend": null}
          }
        },
        {
          "transform": [{"filter": "datum.dev == 'ubuntu-vg/ubuntu-lv'"}],
          "mark": {"type": "line", "clip": true, "strokeWidth": 1},
          "encoding": {
            "x": {"field": "t", "type": "quantitative", "axis": null},
            "y": {"field": "v", "type": "quantitative", "axis": null},
            "color": {"field": "dev", "type": "nominal", "legend": null}
          }
        },
        {
          "data": {"values": [{}]},
          "mark": {"type": "rule", "color": "#CFD6F8", "strokeWidth": 1},
          "encoding": {
            "x": {"datum": -1.06, "type": "quantitative", "axis": null},
            "y": {"datum": 2.5, "type": "quantitative", "axis": null},
            "y2": {"datum": 2.58}
          }
        },
        {
          "data": {"values": [{}]},
          "mark": {"type": "rule", "color": "#CFD6F8", "strokeWidth": 1},
          "encoding": {
            "x": {"datum": 32.31, "type": "quantitative", "axis": null},
            "x2": {"datum": 32.6},
            "y": {"datum": 0, "type": "quantitative", "axis": null}
          }
        },
        {
          "data": {"values": [{}]},
          "mark": {"type": "point", "shape": "triangle-up", "filled": true, "size": 28, "color": "#CFD6F8", "opacity": 1},
          "encoding": {
            "x": {"datum": -1.06, "type": "quantitative", "axis": null},
            "y": {"datum": 2.565, "type": "quantitative", "axis": null}
          }
        },
        {
          "data": {"values": [{}]},
          "mark": {"type": "point", "shape": "triangle-right", "filled": true, "size": 28, "color": "#CFD6F8", "opacity": 1},
          "encoding": {
            "x": {"datum": 32.61, "type": "quantitative", "axis": null},
            "y": {"datum": 0, "type": "quantitative", "axis": null}
          }
        }
      ]
    },
    {
      "width": 450,
      "height": 216,
      "data": {"name": "table"},
      "layer": [
        {
          "mark": {"type": "text", "align": "left", "baseline": "middle", "font": "DejaVu Sans Mono", "fontSize": 9.35, "fill": "#666666"},
          "encoding": {
            "x": {"datum": 0, "type": "quantitative", "scale": {"domain": [7.463, 87.42], "nice": false, "zero": false}, "axis": null},
            "y": {
              "field": "dev", "type": "nominal", "axis": null,
              "scale": {"type": "point", "padding": 0, "domain": ["_head", "loop0", "loop1", "loop10", "loop11", "loop12", "loop2", "loop3", "loop4", "loop5", "loop6", "loop7", "loop8", "loop9", "sda", "sr0", "ubuntu-vg/ubuntu-lv", "_update", "_munin"]}
            },
            "text": {"field": "dev"}
          }
        },
        {
          "mark": {"type": "square", "size": 36, "filled": true, "opacity": 1},
          "encoding": {
            "x": {"datum": -1.42, "type": "quantitative", "axis": null},
            "y": {"field": "dev", "type": "nominal", "axis": null},
            "color": {"field": "dev", "type": "nominal", "legend": null}
          }
        },
        {
          "mark": {"type": "text", "align": "right", "baseline": "middle", "font": "DejaVu Sans Mono", "fontSize": 9.35, "color": "#666666"},
          "encoding": {
            "x": {"datum": 36.73, "type": "quantitative", "axis": null},
            "y": {"field": "dev", "type": "nominal", "axis": null},
            "text": {"field": "cur"}
          }
        },
        {
          "mark": {"type": "text", "align": "right", "baseline": "middle", "font": "DejaVu Sans Mono", "fontSize": 9.35, "color": "#666666"},
          "encoding": {
            "x": {"datum": 53.13, "type": "quantitative", "axis": null},
            "y": {"field": "dev", "type": "nominal", "axis": null},
            "text": {"field": "min"}
          }
        },
        {
          "mark": {"type": "text", "align": "right", "baseline": "middle", "font": "DejaVu Sans Mono", "fontSize": 9.35, "color": "#666666"},
          "encoding": {
            "x": {"datum": 69.6, "type": "quantitative", "axis": null},
            "y": {"field": "dev", "type": "nominal", "axis": null},
            "text": {"field": "avg"}
          }
        },
        {
          "mark": {"type": "text", "align": "right", "baseline": "middle", "font": "DejaVu Sans Mono", "fontSize": 9.35, "color": "#666666"},
          "encoding": {
            "x": {"datum": 86, "type": "quantitative", "axis": null},
            "y": {"field": "dev", "type": "nominal", "axis": null},
            "text": {"field": "max"}
          }
        },
        {
          "data": {"values": [{"label": "Cur:\u00a0\u00a0"}]},
          "mark": {"type": "text", "align": "right", "baseline": "middle", "font": "DejaVu Sans Mono", "fontSize": 9.35, "color": "#666666"},
          "encoding": {
            "x": {"datum": 36.73, "type": "quantitative", "axis": null},
            "y": {"datum": "_head", "type": "nominal", "axis": null},
            "text": {"field": "label"}
          }
        },
        {
          "data": {"values": [{"label": "Min:\u00a0\u00a0"}]},
          "mark": {"type": "text", "align": "right", "baseline": "middle", "font": "DejaVu Sans Mono", "fontSize": 9.35, "color": "#666666"},
          "encoding": {
            "x": {"datum": 53.13, "type": "quantitative", "axis": null},
            "y": {"datum": "_head", "type": "nominal", "axis": null},
            "text": {"field": "label"}
          }
        },
        {
          "data": {"values": [{"label": "Avg:\u00a0\u00a0"}]},
          "mark": {"type": "text", "align": "right", "baseline": "middle", "font": "DejaVu Sans Mono", "fontSize": 9.35, "color": "#666666"},
          "encoding": {
            "x": {"datum": 69.6, "type": "quantitative", "axis": null},
            "y": {"datum": "_head", "type": "nominal", "axis": null},
            "text": {"field": "label"}
          }
        },
        {
          "data": {"values": [{"label": "Max:\u00a0\u00a0"}]},
          "mark": {"type": "text", "align": "right", "baseline": "middle", "font": "DejaVu Sans Mono", "fontSize": 9.35, "color": "#666666"},
          "encoding": {
            "x": {"datum": 86, "type": "quantitative", "axis": null},
            "y": {"datum": "_head", "type": "nominal", "axis": null},
            "text": {"field": "label"}
          }
        },
        {
          "data": {"values": [{"label": "Last update: Fri Mar 20 05:00:25 2026"}]},
          "mark": {"type": "text", "align": "right", "baseline": "middle", "font": "DejaVu Sans Mono", "fontSize": 9.35, "color": "#666666"},
          "encoding": {
            "x": {"datum": 86, "type": "quantitative", "axis": null},
            "y": {"datum": "_update", "type": "nominal", "axis": null},
            "text": {"field": "label"}
          }
        },
        {
          "data": {"values": [{"label": "Munin 2.0.75"}]},
          "mark": {"type": "text", "align": "center", "baseline": "middle", "font": "DejaVu Sans", "fontSize": 7.2, "color": "#C8C8C8"},
          "encoding": {
            "x": {"datum": 41.88, "type": "quantitative", "axis": null},
            "y": {"datum": "_munin", "type": "nominal", "axis": null},
            "text": {"field": "label"}
          }
        }
      ]
    }
  ]
}
